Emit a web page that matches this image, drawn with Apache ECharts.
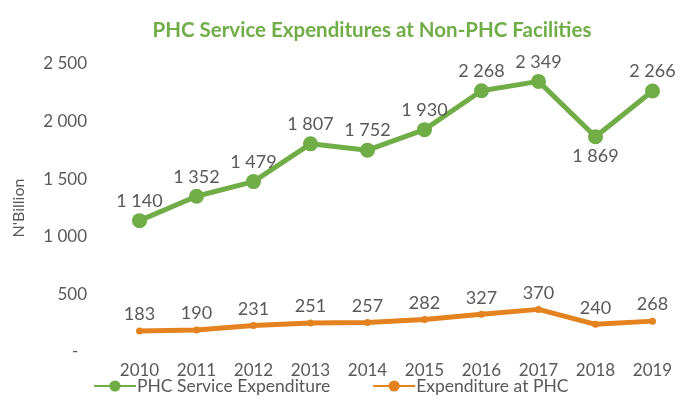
<!DOCTYPE html>
<html>
<head>
<meta charset="utf-8">
<script src="https://cdn.jsdelivr.net/npm/echarts@6/dist/echarts.min.js"></script>
<style>
  html, body { margin: 0; padding: 0; background: #fff; }
  #chart { width: 683px; height: 403px; }
</style>
</head>
<body>
<div id="chart"></div>
<script>
// chart data
const years = ['2010', '2011', '2012', '2013', '2014', '2015', '2016', '2017', '2018', '2019'];
const serviceExpenditure = [1140, 1352, 1479, 1807, 1752, 1930, 2268, 2349, 1869, 2266];
const phcExpenditure = [183, 190, 231, 251, 257, 282, 327, 370, 240, 268];
const yTicks = [0, 500, 1000, 1500, 2000, 2500];

const font = 'Lato, "Noto Sans", sans-serif';
const green = '#70AD47';
const orange = '#E3821F';
const grey = '#595959';

// 1140 -> "1 140", 0 -> "-"
function fmt(v) {
  if (v === 0) return '-  ';
  return String(v).replace(/\B(?=(\d{3})+(?!\d))/g, ' ');
}

let chart = echarts.init(document.getElementById('chart'));

let option = {
  animation: false,
  title: {
    text: 'PHC Service Expenditures at Non-PHC Facilities',
    left: 367,
    textAlign: 'center',
    top: 15,
    textStyle: {
      color: green,
      fontSize: 20.5,
      fontWeight: 'bold',
      fontFamily: font
    }
  },
  legend: {
    bottom: 3,
    left: 88,
    itemGap: 42,
    itemWidth: 42,
    itemHeight: 14,
    textStyle: { color: grey, fontSize: 17.5, fontFamily: font, padding: [0, 0, 0, -4] },
    data: ['PHC Service Expenditure', 'Expenditure at PHC']
  },
  grid: {
    left: 111,
    right: 2,
    top: 64,
    bottom: 51
  },
  xAxis: {
    type: 'category',
    data: years,
    boundaryGap: true,
    axisLine: { show: false },
    axisTick: { show: false },
    axisLabel: { color: grey, fontSize: 17, fontFamily: font, margin: 10 }
  },
  yAxis: {
    type: 'value',
    min: yTicks[0],
    max: yTicks[yTicks.length - 1],
    interval: 500,
    name: "N'Billion",
    nameLocation: 'middle',
    nameGap: 84,
    nameTextStyle: { color: grey, fontSize: 16, fontFamily: font },
    splitLine: { show: false },
    axisLine: { show: false },
    axisTick: { show: false },
    axisLabel: {
      color: grey,
      fontSize: 17,
      fontFamily: font,
      margin: 24,
      formatter: fmt
    }
  },
  series: [
    {
      name: 'PHC Service Expenditure',
      type: 'line',
      data: serviceExpenditure.map((v, i) => ({
        value: v,
        label: i === 8 ? { position: 'bottom' } : {}
      })),
      symbol: 'circle',
      symbolSize: 15,
      lineStyle: { color: green, width: 5 },
      itemStyle: { color: green },
      label: {
        show: true,
        position: 'top',
        distance: 3,
        color: grey,
        fontSize: 18,
        fontFamily: font,
        formatter: p => fmt(p.value)
      }
    },
    {
      name: 'Expenditure at PHC',
      type: 'line',
      data: phcExpenditure,
      symbol: 'circle',
      symbolSize: 7,
      lineStyle: { color: orange, width: 5 },
      itemStyle: { color: orange },
      label: {
        show: true,
        position: 'top',
        distance: 4,
        color: grey,
        fontSize: 18,
        fontFamily: font,
        formatter: p => fmt(p.value)
      }
    }
  ]
};

chart.setOption(option);
</script>
</body>
</html>
